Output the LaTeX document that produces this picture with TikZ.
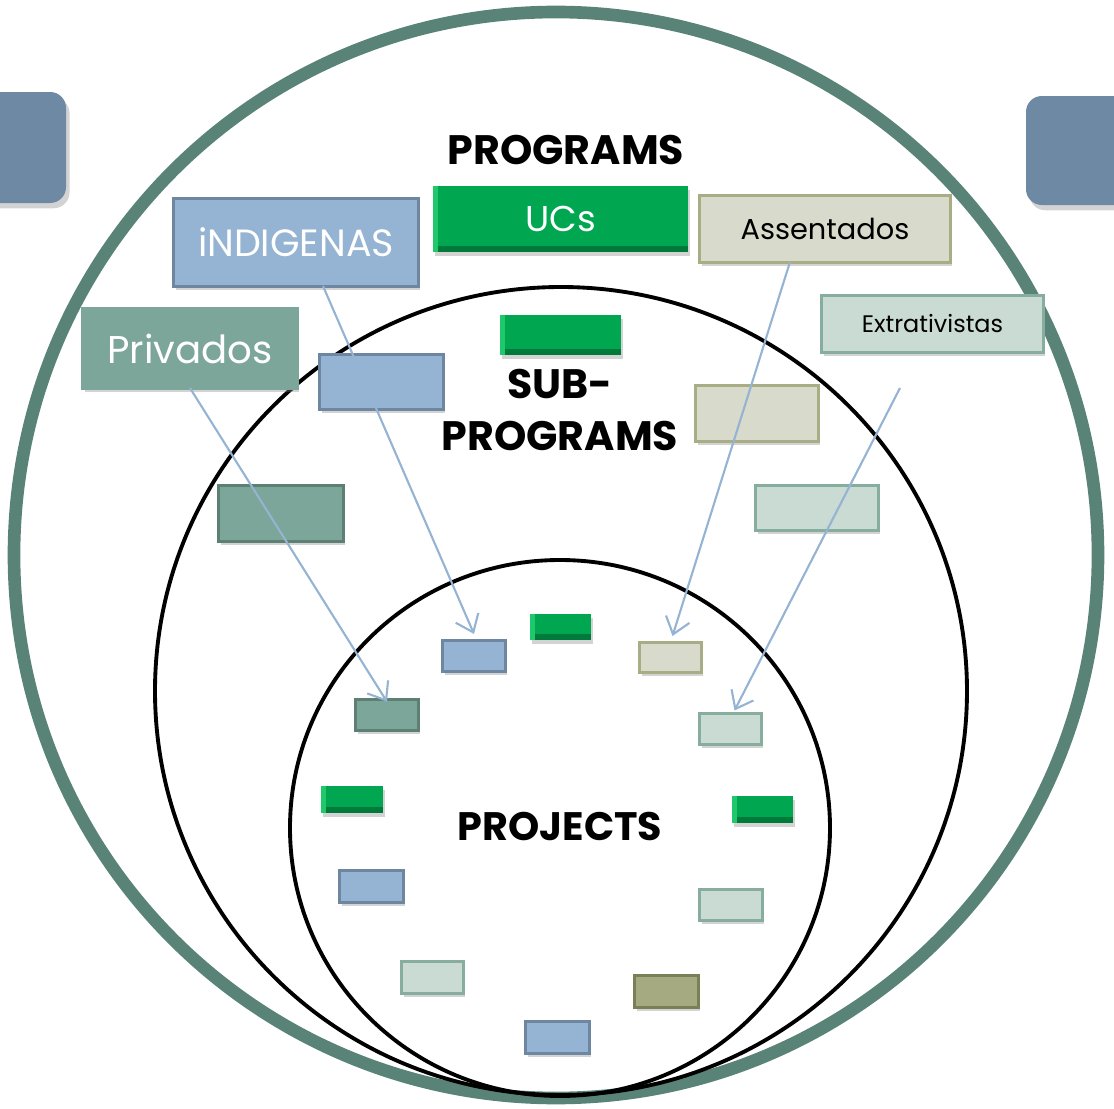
\documentclass[tikz,border=0pt]{standalone}
\usepackage{fontspec}
\newfontfamily\pop{Poppins}
\usetikzlibrary{arrows.meta,shadows}
\definecolor{cRing}{HTML}{5A8377}
\definecolor{cBlue}{HTML}{95B3D2}
\definecolor{cBlueD}{HTML}{6E86A0}
\definecolor{cTeal}{HTML}{7CA699}
\definecolor{cTealD}{HTML}{5E7F73}
\definecolor{cBeig}{HTML}{D8DACB}
\definecolor{cBeigD}{HTML}{A8AD85}
\definecolor{cLt}{HTML}{CADBD4}
\definecolor{cLtD}{HTML}{86AD9E}
\definecolor{cOl}{HTML}{A5AA80}
\definecolor{cOlD}{HTML}{7A7F58}
\definecolor{cGrn}{HTML}{00A650}
\definecolor{cGrnD}{HTML}{007A3A}
\definecolor{cGrnL}{HTML}{1FC86A}
\definecolor{cCorner}{HTML}{6E89A3}
\definecolor{cArrow}{HTML}{95B3D2}
\tikzset{
  base/.style={rectangle, inner sep=0pt, outer sep=0pt, line width=0.85pt,
    drop shadow={opacity=0.35, shadow xshift=0.6pt, shadow yshift=-1.1pt}},
  bluebox/.style={base, fill=cBlue, draw=cBlueD},
  tealbox/.style={base, fill=cTeal, draw=cTealD},
  beigebox/.style={base, fill=cBeig, draw=cBeigD},
  ltbox/.style={base, fill=cLt, draw=cLtD},
  olbox/.style={base, fill=cOl, draw=cOlD},
  grnbox/.style={base, fill=cGrn, draw=none,
    path picture={
      \fill[cGrnD] (path picture bounding box.south west) rectangle ([yshift=1.8pt]path picture bounding box.south east);
      \fill[cGrnL] (path picture bounding box.south west) rectangle ([xshift=1.5pt]path picture bounding box.north west);
    }},
  ring/.style={draw=black, line width=1.1pt},
  conn/.style={draw=cArrow, line width=0.6pt, -{Straight Barb[length=4.5pt,width=7pt]}},
  title/.style={font=\pop\bfseries, text=black, align=center},
}
\begin{document}
\begin{tikzpicture}[x=0.01cm, y=-0.01cm]
\useasboundingbox (0,0) rectangle (1114,1109);
% corner shapes
\fill[cCorner, rounded corners=4.5pt, drop shadow={opacity=0.35, shadow xshift=1pt, shadow yshift=-1.5pt}] (-60,92) rectangle (66,203);
\fill[cCorner, rounded corners=4.5pt, drop shadow={opacity=0.35, shadow xshift=1pt, shadow yshift=-1.5pt}] (1026,96) rectangle (1180,205);
% circles
\draw[cRing, line width=3.6pt] (556,555) ellipse [x radius=542, y radius=543];
\draw[ring] (561,691) ellipse [x radius=406, y radius=404];
\draw[ring] (560,828) ellipse [x radius=270, y radius=268];
% titles
\node[title, font=\pop\bfseries\fontsize{11.7}{14}\selectfont] (tprog) at (566,150) {PROGRAMS};
\node[title, font=\pop\bfseries\fontsize{11.7}{15}\selectfont] (tsub) at (560,410) {SUB-\\PROGRAMS};
\node[title, font=\pop\bfseries\fontsize{11.3}{14}\selectfont] (tproj) at (560,826) {PROJECTS};
% label boxes
\node[bluebox, minimum width=2.44cm, minimum height=0.87cm, text=white, font=\pop\fontsize{10.8}{12}\selectfont] (ind) at (296,242.5) {iNDIGENAS};
\node[grnbox, minimum width=2.55cm, minimum height=0.66cm, text=white, font=\pop\fontsize{10.2}{12}\selectfont] (ucs) at (560.5,219) {UCs};
\node[beigebox, minimum width=2.50cm, minimum height=0.66cm, text=black, font=\pop\fontsize{8.2}{10}\selectfont] (ass) at (825,229) {Assentados};
\node[ltbox, minimum width=2.21cm, minimum height=0.56cm, text=black, font=\pop\fontsize{6.8}{8}\selectfont] (ext) at (932.5,324) {Extrativistas};
\node[base, fill=cTeal, draw=cTeal, minimum width=2.14cm, minimum height=0.79cm, text=white, font=\pop\fontsize{11}{13}\selectfont] (priv) at (190,348.5) {Privados};
% sub-program boxes
\node[grnbox, minimum width=1.21cm, minimum height=0.40cm] (sg) at (560.5,335) {};
\node[bluebox, minimum width=1.23cm, minimum height=0.54cm] (sb) at (381.5,382) {};
\node[beigebox, minimum width=1.22cm, minimum height=0.55cm] (sa) at (757,413.5) {};
\node[ltbox, minimum width=1.22cm, minimum height=0.44cm] (se) at (817,508) {};
\node[tealbox, minimum width=1.24cm, minimum height=0.55cm] (sp) at (281,513.5) {};
% project boxes
\node[bluebox, minimum width=0.62cm, minimum height=0.30cm] (p1) at (474,656) {};
\node[grnbox, minimum width=0.61cm, minimum height=0.26cm] (p2) at (560.5,627) {};
\node[beigebox, minimum width=0.61cm, minimum height=0.29cm] (p3) at (670.5,657.5) {};
\node[tealbox, minimum width=0.62cm, minimum height=0.30cm] (p4) at (387,715) {};
\node[ltbox, minimum width=0.61cm, minimum height=0.30cm] (p5) at (730.5,729) {};
\node[grnbox, minimum width=0.62cm, minimum height=0.27cm] (p6) at (352,799.5) {};
\node[grnbox, minimum width=0.61cm, minimum height=0.27cm] (p7) at (762.5,809.5) {};
\node[bluebox, minimum width=0.63cm, minimum height=0.31cm] (p8) at (371.5,886.5) {};
\node[ltbox, minimum width=0.62cm, minimum height=0.30cm] (p9) at (731,905) {};
\node[ltbox, minimum width=0.61cm, minimum height=0.31cm] (p10) at (432.5,977.5) {};
\node[olbox, minimum width=0.63cm, minimum height=0.31cm] (p11) at (666.5,991.5) {};
\node[bluebox, minimum width=0.63cm, minimum height=0.31cm] (p12) at (557.5,1037.5) {};
% connectors
\coordinate (extfree) at (900,388);
\draw[conn] (priv.south) -- ([yshift=-0.5pt]p4.north);
\draw[conn] ([xshift=0.27cm]ind.south) -- ([yshift=2pt]p1.north);
\draw[conn] ([xshift=-0.35cm]ass.south) -- ([xshift=0.02cm,yshift=2pt]p3.north);
\draw[conn] (extfree) -- ([xshift=0.04cm,yshift=1pt]p5.north);
\end{tikzpicture}
\end{document}
